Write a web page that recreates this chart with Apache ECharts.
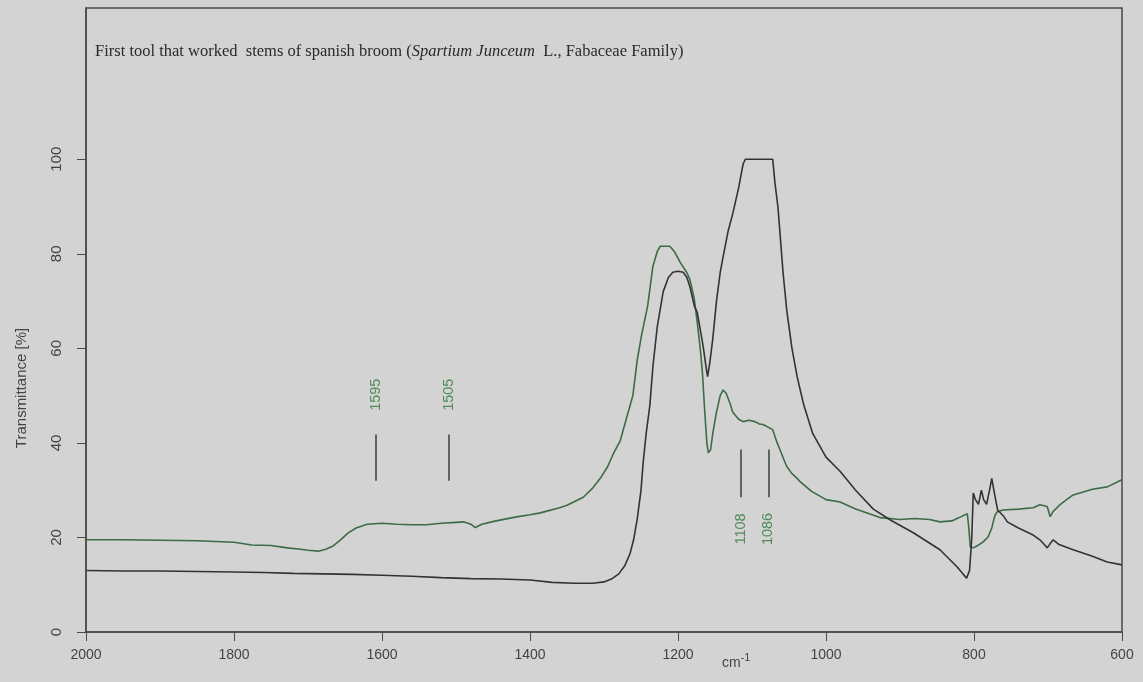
<!DOCTYPE html>
<html><head><meta charset="utf-8">
<script src="https://cdn.jsdelivr.net/npm/echarts@6/dist/echarts.min.js"></script>
<style>html,body{margin:0;padding:0;background:#d3d3d3}#c{width:1143px;height:682px}</style>
</head><body><div id="c"></div>
<script>
// ---- data ----
const xTicks = [2000, 1800, 1600, 1400, 1200, 1000, 800, 600];
const yTicks = [0, 20, 40, 60, 80, 100];

const blackWn = [2000,1950,1900,1850,1800,1760,1720,1680,1640,1600,1560,1520,1480,1440,1400,1370,1340,1315,1300,1290,1280,1272,1265,1260,1255,1250,1247,1243,1238,1234,1228,1220,1213,1207,1200,1193,1188,1184,1178,1174,1170,1166,1162,1160,1157,1153,1148,1143,1139,1132,1126,1118,1112,1109,1072,1069,1065,1062,1058,1053,1046,1039,1030,1018,1000,981,960,936,913,882,846,823,815,810,806,803,801,798,794,790,787,783,779,776,772,768,760,755,740,720,711,705,701,697,693,685,666,640,620,600];
const blackT  = [13.0,12.9,12.9,12.8,12.7,12.6,12.4,12.3,12.2,12.0,11.8,11.5,11.3,11.2,11.0,10.5,10.3,10.3,10.6,11.2,12.3,14.0,16.5,19.5,24,30,36,42,48,56,64.6,72,75,76.1,76.3,76.1,75,73.1,69,67.6,64,60.4,56,54,57,62,70,76,79.4,85,88.5,94,99,100,100,95,90,84,76,68,60,54,48,42,37,34,30,26,23.7,21,17.4,13.8,12.3,11.4,13,20,29.4,28,27,30,28,27,30,32.5,29,25.8,24.5,23.3,22,20.5,19.5,18.5,17.8,18.7,19.5,18.5,17.4,16,14.8,14.2];

const greenWn = [2000,1950,1900,1850,1800,1776,1750,1728,1710,1700,1686,1676,1666,1656,1646,1635,1620,1600,1580,1560,1540,1520,1500,1490,1480,1474,1465,1449,1420,1400,1386,1360,1350,1328,1315,1305,1295,1288,1278,1270,1261,1255,1249,1241,1234,1228,1224,1211,1205,1197,1188,1184,1178,1174,1170,1167,1164,1161,1159,1156,1153,1148,1143,1139,1135,1130,1126,1118,1112,1104,1096,1090,1085,1079,1072,1066,1062,1057,1053,1046,1039,1035,1020,1000,981,960,927,900,880,860,846,830,820,812,809,807,805,801,795,788,781,776,772,769,761,740,720,711,705,701,697,693,684,675,666,640,620,600];
const greenT  = [19.5,19.5,19.4,19.3,19.0,18.4,18.3,17.8,17.5,17.3,17.1,17.5,18.2,19.5,20.9,22,22.8,23.0,22.8,22.7,22.7,23.0,23.2,23.3,22.8,22.1,22.8,23.4,24.3,24.8,25.2,26.3,26.8,28.5,30.5,32.5,35,37.5,40.5,45,50,57.6,63,69,77.3,80.5,81.6,81.6,80.5,78.2,76,74.6,70.5,65.5,60,54.9,47,40,37.9,38.5,42,46.5,50,51.2,50.5,48.5,46.5,45,44.5,44.8,44.5,44,43.9,43.4,42.8,40,38.5,36.5,35,33.5,32.5,31.8,29.8,28,27.5,26,24.2,23.8,24.0,23.8,23.3,23.5,24.2,24.8,25,22,18,17.8,18.3,19,20.1,22,24.5,25.4,25.8,26,26.3,26.9,26.7,26.5,24.4,25.5,26.9,28,29,30.2,30.7,32.2];

const peakPos    = [1608, 1510, 1115, 1078];
const peakLabels = ['1595', '1505', '1108', '1086'];
const peakLineLo = [32, 32, 28.5, 28.5];
const peakLineHi = [41.8, 41.8, 38.6, 38.6];
const peakTextY  = [50.2, 50.2, 21.8, 21.8];

const titleText = 'First tool that worked  stems of spanish broom (';
const titleItalic = 'Spartium Junceum';
const titleEnd = '  L., Fabaceae Family)';

// ---- chart ----
const chart = echarts.init(document.getElementById('c'), null, {renderer: 'canvas'});
const zip = (a, b) => a.map((v, i) => [v, b[i]]);

const option = {
  backgroundColor: '#d3d3d3',
  animation: false,
  title: {
    text: '{n|' + titleText + '}{i|' + titleItalic + '}{n|' + titleEnd + '}',
    left: 90, top: 38,
    textStyle: {
      fontWeight: 'normal',
      rich: {
        n: {fontFamily: 'Liberation Serif', fontSize: 16.5, fontWeight: 'normal', color: '#2a2a2a'},
        i: {fontFamily: 'Liberation Serif', fontSize: 16.5, fontWeight: 'normal', fontStyle: 'italic', color: '#2a2a2a'}
      }
    }
  },
  grid: {left: 86, right: 21, top: 8, bottom: 50, show: true, borderColor: '#4a4a4a', borderWidth: 1.5, backgroundColor: 'transparent'},
  xAxis: {
    type: 'value', inverse: true, min: 600, max: 2000, interval: 200,
    axisLine: {show: true, lineStyle: {color: '#4a4a4a', width: 1.5}},
    axisTick: {show: true, length: 9, lineStyle: {color: '#4a4a4a'}},
    axisLabel: {margin: 16, fontFamily: 'Liberation Sans', fontSize: 14, color: '#444', customValues: xTicks, formatter: v => String(v)},
    splitLine: {show: false}
  },
  yAxis: {
    type: 'value', min: 0, max: 132,
    axisLine: {show: true, lineStyle: {color: '#4a4a4a', width: 1.5}},
    axisTick: {show: true, length: 9, lineStyle: {color: '#4a4a4a'}, customValues: yTicks},
    axisLabel: {rotate: 90, margin: 22, fontFamily: 'Liberation Sans', fontSize: 15, color: '#444', customValues: yTicks, formatter: v => String(v)},
    splitLine: {show: false}
  },
  graphic: [
    {type: 'text', x: 22, y: 388, rotation: Math.PI / 2,
     style: {text: 'Transmittance [%]', align: 'center', verticalAlign: 'middle', font: '15px "Liberation Sans"', fill: '#444'}},
    {type: 'text', x: 722, y: 663,
     style: {text: '{a|cm}{b|-1}', verticalAlign: 'middle',
             rich: {a: {font: '14px "Liberation Sans"', fill: '#444'}, b: {font: '11px "Liberation Sans"', fill: '#444', verticalAlign: 'top', padding: [0,0,10,0]}}}}
  ],
  series: [
    {
      name: 'black', type: 'line', data: zip(blackWn, blackT), showSymbol: false, symbol: 'none',
      lineStyle: {color: '#333333', width: 1.6}, z: 3
    },
    {
      name: 'green', type: 'line', data: zip(greenWn, greenT), showSymbol: false, symbol: 'none',
      lineStyle: {color: '#3d6b45', width: 1.6}, z: 2,
      markLine: {
        silent: true, symbol: 'none', label: {show: false},
        lineStyle: {color: '#3f4a42', width: 1.6, type: 'solid'},
        data: peakPos.map((p, i) => [{coord: [p, peakLineLo[i]]}, {coord: [p, peakLineHi[i]]}])
      }
    },
    {
      name: 'labels', type: 'scatter', symbol: 'circle', symbolSize: 2, silent: true, z: 5,
      itemStyle: {color: 'rgba(0,0,0,0)'},
      data: peakPos.map((p, i) => ({value: [p, peakTextY[i]], name: peakLabels[i]})),
      label: {show: true, position: 'inside', rotate: 90, formatter: '{b}', color: '#2f7a3a', fontFamily: 'Liberation Sans', fontSize: 14.5}
    }
  ]
};
chart.setOption(option);
</script></body></html>
